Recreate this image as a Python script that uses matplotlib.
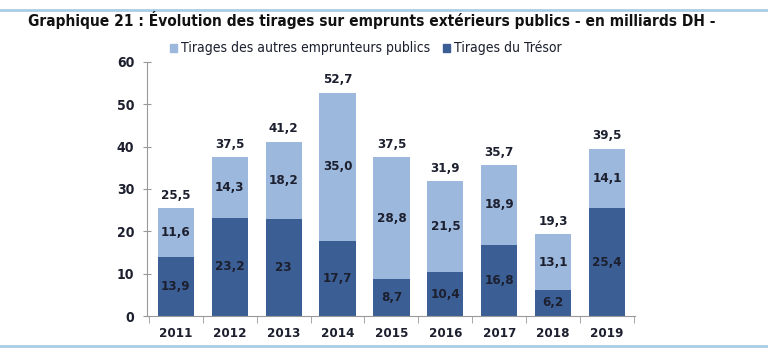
import matplotlib.pyplot as plt
import numpy as np
from matplotlib.lines import Line2D

years = ['2011', '2012', '2013', '2014', '2015', '2016', '2017', '2018', '2019']
tresor = [13.9, 23.2, 23, 17.7, 8.7, 10.4, 16.8, 6.2, 25.4]
autres = [11.6, 14.3, 18.2, 35.0, 28.8, 21.5, 18.9, 13.1, 14.1]
tresor_lbl = ['13,9', '23,2', '23', '17,7', '8,7', '10,4', '16,8', '6,2', '25,4']
autres_lbl = ['11,6', '14,3', '18,2', '35,0', '28,8', '21,5', '18,9', '13,1', '14,1']
total_lbl = ['25,5', '37,5', '41,2', '52,7', '37,5', '31,9', '35,7', '19,3', '39,5']

dark = '#3b5f95'
light = '#9db8dd'
txt = '#1c1f2e'

plt.rcParams['font.family'] = ['DejaVu Sans']
plt.rcParams['font.stretch'] = 'condensed'

fig = plt.figure(figsize=(7.68, 3.6), dpi=100)
ax = fig.add_axes([0.191, 0.122, 0.636, 0.706])

x = np.arange(len(years))
ax.bar(x, tresor, width=0.67, color=dark)
ax.bar(x, autres, width=0.67, bottom=tresor, color=light)

for i in range(len(years)):
    tot = tresor[i] + autres[i]
    ax.text(x[i], tresor[i] / 2, tresor_lbl[i], ha='center', va='center',
            fontsize=9.5, fontweight='bold', color=txt)
    ax.text(x[i], tresor[i] + autres[i] / 2, autres_lbl[i], ha='center', va='center',
            fontsize=9.5, fontweight='bold', color=txt)
    ax.text(x[i], tot + 1.5, total_lbl[i], ha='center', va='bottom',
            fontsize=9.5, fontweight='bold', color=txt)

ax.set_xlim(-0.54, 8.52)
ax.set_ylim(0, 60)
ax.set_yticks(range(0, 61, 10))
ax.set_xticks(x)
ax.set_xticklabels(years)
ax.set_xticks(np.arange(-0.5, 9, 1), minor=True)
ax.tick_params(axis='x', which='major', length=0, pad=8, labelsize=9.5, labelcolor=txt)
ax.tick_params(axis='x', which='minor', length=5, direction='out', color='#999999')
ax.tick_params(axis='y', length=6, direction='inout', color='#999999', labelsize=10,
               labelcolor=txt, pad=6)
for lab in ax.get_xticklabels() + ax.get_yticklabels():
    lab.set_fontweight('bold')
for s in ['top', 'right']:
    ax.spines[s].set_visible(False)
ax.spines['left'].set_color('#999999')
ax.spines['bottom'].set_color('#999999')

handles = [plt.Rectangle((0, 0), 1, 1, color=light), plt.Rectangle((0, 0), 1, 1, color=dark)]
fig.legend(handles, ['Tirages des autres emprunteurs publics', 'Tirages du Trésor'],
           loc='center left', bbox_to_anchor=(0.205, 0.866), ncol=2, frameon=False,
           fontsize=10, handlelength=0.5, handleheight=0.5, handletextpad=0.3,
           columnspacing=0.9, labelcolor=txt)

fig.text(0.036, 0.945, 'Graphique 21 : Évolution des tirages sur emprunts extérieurs publics - en milliards DH -',
         fontsize=11.1, fontweight='bold', color='#111111', va='center', ha='left')

fig.add_artist(Line2D([0, 1], [0.972, 0.972], color='#a9cde6', lw=2))
fig.add_artist(Line2D([0, 1], [0.04, 0.04], color='#a9cde6', lw=2))

plt.savefig('out.png', dpi=100)
